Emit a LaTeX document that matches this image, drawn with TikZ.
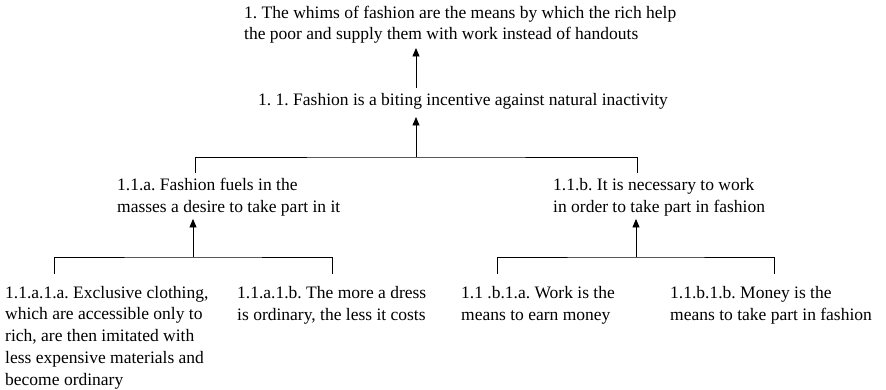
\documentclass[tikz,border=0pt]{standalone}
\usepackage{fontspec}
\setmainfont{Liberation Serif}
\usetikzlibrary{arrows.meta}
\frenchspacing
\begin{document}
\begin{tikzpicture}[x=1pt,y=-1pt,
  txt/.style={inner sep=0pt, anchor=base west, align=left, font=\fontsize{17.5}{21.7}\selectfont\frenchspacing},
  arr/.style={-{Triangle[length=8.5pt,width=7pt]}, line width=0.8pt},
  ln/.style={line width=0.8pt}]
\useasboundingbox (0,0) rectangle (886,390);
% nodes (anchor = baseline of the last line)
\node[txt] (n1) at (244,40) {1. The whims of fashion are the means by which the rich help\\the poor and supply them with work instead of handouts};
\node[txt] (n11) at (258,106) {1. 1. Fashion is a biting incentive against natural inactivity};
\node[txt] (n11a) at (117,212) {1.1.a. Fashion fuels in the\\masses a desire to take part in it};
\node[txt] (n11b) at (553,212) {1.1.b. It is necessary to work\\in order to take part in fashion};
\node[txt] (n11a1a) at (5,385) {1.1.a.1.a. Exclusive clothing,\\which are accessible only to\\rich, are then imitated with\\less expensive materials and\\become ordinary};
\node[txt] (n11a1b) at (237,320.6) {1.1.a.1.b. The more a dress\\is ordinary, the less it costs};
\node[txt] (n11b1a) at (461,320.6) {1.1 .b.1.a. Work is the\\means to earn money};
\node[txt] (n11b1b) at (670,320.6) {1.1.b.1.b. Money is the\\means to take part in fashion};
% junctions
\coordinate (x1) at (416,0);
\coordinate (j1) at (416,157);
\coordinate (a1) at (195,173);
\coordinate (b1) at (637,173);
\coordinate (j2) at (193,257);
\coordinate (a2) at (54,274);
\coordinate (b2) at (332,274);
\coordinate (j3) at (636,257);
\coordinate (a3) at (497,274);
\coordinate (b3) at (774,274);
% connectors
\draw[arr, shorten <=6pt, shorten >=4pt] (x1 |- n11.north) -- (x1 |- n1.south);
\draw[ln] (a1) |- (j1) -| (b1);
\draw[arr, shorten >=7pt] (j1) -- (j1 |- n11.south);
\draw[ln] (a2) |- (j2) -| (b2);
\draw[arr, shorten >=3pt] (j2) -- (j2 |- n11a.south);
\draw[ln] (a3) |- (j3) -| (b3);
\draw[arr, shorten >=3pt] (j3) -- (j3 |- n11b.south);
\end{tikzpicture}
\end{document}
